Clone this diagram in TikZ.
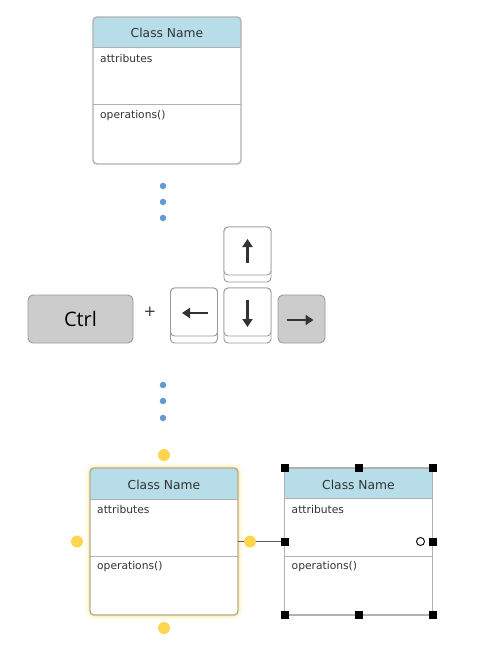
\documentclass[tikz,border=0pt]{standalone}
\usepackage{fontspec}
\setmainfont{DejaVu Sans}
\newfontfamily\keyfont{Open Sans}
\usetikzlibrary{arrows.meta,calc}
\definecolor{hdr}{HTML}{B7DDE8}
\definecolor{txt}{HTML}{333333}
\definecolor{bord}{HTML}{B0B0B0}
\definecolor{dotblue}{HTML}{6699CC}
\definecolor{handle}{HTML}{FFD54F}
\definecolor{glowc}{HTML}{FFE680}
\definecolor{keybord}{HTML}{9A9A9A}
\definecolor{keygray}{HTML}{CCCCCC}
\tikzset{
  classbox/.style={draw=none, fill=white, minimum width=148pt, minimum height=147pt, inner sep=0pt, outer sep=0pt},
  titletext/.style={text=txt, font=\fontsize{12.3}{14}\selectfont, inner sep=0pt},
  bodytext/.style={text=txt, font=\fontsize{10.7}{12}\selectfont, anchor=west, inner sep=0pt},
  bluedot/.style={circle, fill=dotblue, minimum size=6.5pt, inner sep=0pt},
  ydot/.style={circle, fill=handle, minimum size=12pt, inner sep=0pt},
  sqhandle/.style={rectangle, fill=black, minimum size=8pt, inner sep=0pt},
  keyface/.style={draw=keybord, line width=0.9pt, fill=white, rounded corners=4pt, minimum width=47pt, minimum height=48pt, inner sep=0pt, outer sep=0pt},
  keyback/.style={draw=keybord, line width=0.9pt, fill=white, rounded corners=4pt, minimum width=47pt, minimum height=55pt, inner sep=0pt, outer sep=0pt},
  graykey/.style={draw=keybord, line width=0.9pt, fill=keygray, rounded corners=5pt, minimum height=48pt, inner sep=0pt, outer sep=0pt},
  keyarrow/.style={draw=txt, line width=2.2pt, -{Triangle[length=8pt,width=10pt]}},
  connector/.style={draw=txt!80, line width=1.1pt},
}
\begin{document}
\begin{tikzpicture}[x=1pt,y=-1pt]
\useasboundingbox (0,0) rectangle (487,670);

% ---------- top class ----------
\node[classbox] (c1) at (167,90.5) {};
\begin{scope}
  \clip[rounded corners=4pt] (c1.north west) rectangle (c1.south east);
  \fill[hdr] (c1.north west) rectangle ($(c1.north east)+(0,30)$);
\end{scope}
\draw[bord, line width=1pt] ($(c1.north west)+(0,30)$) -- ($(c1.north east)+(0,30)$);
\draw[bord, line width=1pt] ($(c1.north west)+(0,87)$) -- ($(c1.north east)+(0,87)$);
\draw[bord, line width=1.4pt, rounded corners=4pt] (c1.north west) rectangle (c1.south east);
\node[titletext] (c1t) at ($(c1.north)+(0,16)$) {Class Name};
\node[bodytext] (c1a) at ($(c1.north west)+(7,42)$) {attributes};
\node[bodytext] (c1o) at ($(c1.north west)+(7,99)$) {operations()};

% ---------- dots ----------
\node[bluedot] (d1) at (163,186) {};
\node[bluedot] (d2) at (163,202) {};
\node[bluedot] (d3) at (163,218) {};

% ---------- keys ----------
\node[graykey, minimum width=105pt] (ck) at (80.5,319) {};
\node[text=black, font=\keyfont\fontsize{20}{22}\selectfont, inner sep=0pt] (ckt) at (ck.center) {Ctrl};
\node[text=txt, font=\fontsize{15}{16}\selectfont, inner sep=0pt] (plus) at (150,312) {+};

\node[keyback] (ukb) at (247.5,254.5) {};
\node[keyface] (uk) at (247.5,251) {};
\node[keyback] (lkb) at (194,315.5) {};
\node[keyface] (lk) at (194,312) {};
\node[keyback] (dkb) at (247.5,315.5) {};
\node[keyface] (dk) at (247.5,312) {};
\node[graykey, minimum width=47pt] (rk) at (301.5,319) {};

\draw[keyarrow] ($(uk.center)+(0,12)$) -- ($(uk.center)+(0,-12)$);
\draw[keyarrow] ($(lk.center)+(14,1)$) -- ($(lk.center)+(-12,1)$);
\draw[keyarrow] ($(dk.center)+(0,-12)$) -- ($(dk.center)+(0,15)$);
\draw[keyarrow] ($(rk.center)+(-15,1)$) -- ($(rk.center)+(12,1)$);

% ---------- dots ----------
\node[bluedot] (d4) at (163,385) {};
\node[bluedot] (d5) at (163,401) {};
\node[bluedot] (d6) at (163,418) {};

% ---------- bottom left class (selected, glowing) ----------
\node[classbox] (c2) at (164,541.5) {};
\foreach \w/\o in {10/0.10, 7/0.15, 4.5/0.22, 2.5/0.35}{
  \draw[glowc, line width=\w pt, opacity=\o, rounded corners=5pt] (c2.north west) rectangle (c2.south east);
}
\fill[white, rounded corners=4pt] (c2.north west) rectangle (c2.south east);
\begin{scope}
  \clip[rounded corners=4pt] (c2.north west) rectangle (c2.south east);
  \fill[hdr] (c2.north west) rectangle ($(c2.north east)+(0,31)$);
\end{scope}
\draw[bord, line width=1pt] ($(c2.north west)+(0,31)$) -- ($(c2.north east)+(0,31)$);
\draw[bord, line width=1pt] ($(c2.north west)+(0,88)$) -- ($(c2.north east)+(0,88)$);
\draw[bord!70!glowc!90!black, line width=1.4pt, rounded corners=4pt] (c2.north west) rectangle (c2.south east);
\node[titletext] (c2t) at ($(c2.north)+(0,16.5)$) {Class Name};
\node[bodytext] (c2a) at ($(c2.north west)+(7,42)$) {attributes};
\node[bodytext] (c2o) at ($(c2.north west)+(7,99)$) {operations()};

% ---------- bottom right class (selected, handles) ----------
\node[classbox] (c3) at (358.5,541.5) {};
\fill[hdr] (c3.north west) rectangle ($(c3.north east)+(0,30)$);
\draw[bord, line width=1pt] ($(c3.north west)+(0,30)$) -- ($(c3.north east)+(0,30)$);
\draw[bord, line width=1pt] ($(c3.north west)+(0,88)$) -- ($(c3.north east)+(0,88)$);
\draw[bord, line width=1.4pt] (c3.north west) rectangle (c3.south east);
\node[titletext] (c3t) at ($(c3.north)+(0,16.5)$) {Class Name};
\node[bodytext] (c3a) at ($(c3.north west)+(7,42)$) {attributes};
\node[bodytext] (c3o) at ($(c3.north west)+(7,99)$) {operations()};

% connector
\draw[connector] (c2.east) -- (c3.west);

% yellow handles
\node[ydot] (y1) at ($(c2.north)+(0,-13)$) {};
\node[ydot] (y2) at ($(c2.south)+(0,13)$) {};
\node[ydot] (y3) at ($(c2.west)+(-13,0)$) {};
\node[ydot] (y4) at ($(c2.east)+(12,0)$) {};

% square handles
\node[sqhandle] (h1) at (c3.north west) {};
\node[sqhandle] (h2) at (c3.north) {};
\node[sqhandle] (h3) at (c3.north east) {};
\node[sqhandle] (h4) at (c3.west) {};
\node[sqhandle] (h5) at (c3.east) {};
\node[sqhandle] (h6) at (c3.south west) {};
\node[sqhandle] (h7) at (c3.south) {};
\node[sqhandle] (h8) at (c3.south east) {};
\node[circle, draw=black, fill=white, line width=0.9pt, minimum size=8pt, inner sep=0pt] (hc) at ($(c3.east)+(-12,0)$) {};

\end{tikzpicture}
\end{document}
